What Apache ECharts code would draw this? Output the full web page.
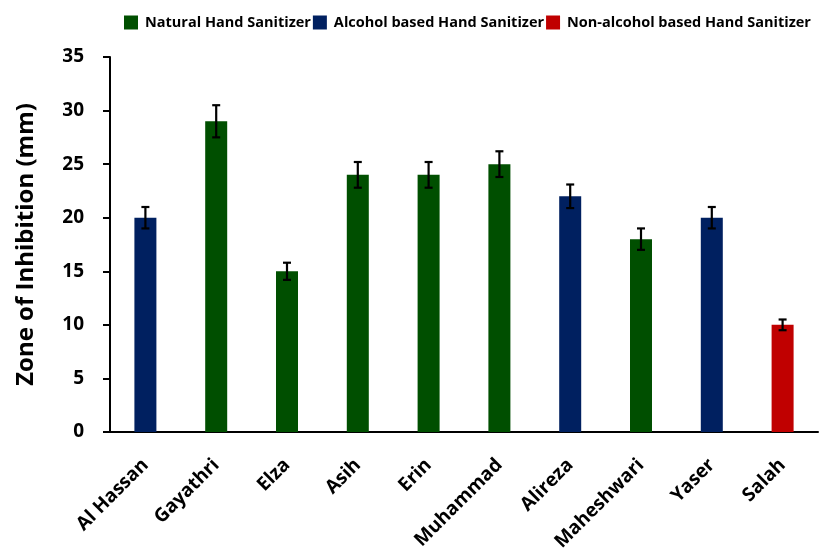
<!DOCTYPE html>
<html>
<head>
<meta charset="utf-8">
<script src="https://cdn.jsdelivr.net/npm/echarts@6/dist/echarts.min.js"></script>
<style>
  html, body { margin: 0; padding: 0; background: #fff; }
  #chart { width: 834px; height: 560px; }
</style>
</head>
<body>
<div id="chart"></div>
<script>
const categories = ["Al Hassan", "Gayathri", "Elza", "Asih", "Erin", "Muhammad", "Alireza", "Maheshwari", "Yaser", "Salah"];
const values = [20, 29, 15, 24, 24, 25, 22, 18, 20, 10];
const errors = [1.0, 1.5, 0.8, 1.2, 1.2, 1.2, 1.1, 1.0, 1.0, 0.5];
const groups = ["alcohol", "natural", "natural", "natural", "natural", "natural", "alcohol", "natural", "alcohol", "nonalcohol"];
const yTicks = [0, 5, 10, 15, 20, 25, 30, 35];

const groupNames = {
  natural: "Natural Hand Sanitizer",
  alcohol: "Alcohol based Hand Sanitizer",
  nonalcohol: "Non-alcohol based Hand Sanitizer"
};
const groupColors = { natural: "#004f00", alcohol: "#002060", nonalcohol: "#c00000" };
const FONT = "Open Sans";

const chart = echarts.init(document.getElementById("chart"));

// one bar series per group, empty where the category belongs to another group
const barSeries = Object.keys(groupNames).map(g => ({
  name: groupNames[g],
  type: "bar",
  stack: "all",
  barWidth: 22,
  data: values.map((v, i) => (groups[i] === g ? v : null)),
  itemStyle: { color: groupColors[g] }
}));

const errorSeries = {
  type: "custom",
  name: "err",
  z: 10,
  data: values.map((v, i) => [i, v - errors[i], v + errors[i]]),
  renderItem: (params, api) => {
    const lo = api.coord([api.value(0), api.value(1)]);
    const hi = api.coord([api.value(0), api.value(2)]);
    const cap = 4;
    const style = { stroke: "#000", lineWidth: 2.2 };
    return {
      type: "group",
      children: [
        { type: "line", shape: { x1: hi[0], y1: hi[1], x2: lo[0], y2: lo[1] }, style },
        { type: "line", shape: { x1: hi[0] - cap, y1: hi[1], x2: hi[0] + cap, y2: hi[1] }, style },
        { type: "line", shape: { x1: lo[0] - cap, y1: lo[1], x2: lo[0] + cap, y2: lo[1] }, style }
      ]
    };
  }
};

const option = {
  animation: false,
  textStyle: { fontFamily: FONT },
  legend: {
    data: Object.values(groupNames),
    left: 124,
    top: 15,
    padding: 0,
    itemWidth: 14,
    itemHeight: 14,
    itemGap: 2,
    icon: "rect",
    textStyle: { fontFamily: FONT, fontWeight: "bold", fontSize: 14.5, color: "#000", padding: [0, 0, 0, 2] }
  },
  grid: { left: 110, right: 16, top: 57, bottom: 128 },
  xAxis: {
    type: "category",
    data: categories,
    axisLine: { lineStyle: { color: "#000", width: 2 } },
    axisTick: { alignWithLabel: true, length: 6, lineStyle: { color: "#000", width: 2 } },
    axisLabel: {
      rotate: 45,
      margin: 30,
      interval: 0,
      fontFamily: FONT,
      fontWeight: "bold",
      fontSize: 19,
      color: "#000"
    }
  },
  yAxis: {
    type: "value",
    min: yTicks[0],
    max: yTicks[yTicks.length - 1],
    interval: 5,
    name: "Zone of Inhibition (mm)",
    nameLocation: "middle",
    nameGap: 72,
    nameTextStyle: { fontFamily: FONT, fontWeight: "bold", fontSize: 24, color: "#000" },
    splitLine: { show: false },
    axisLine: { show: true, lineStyle: { color: "#000", width: 2 } },
    axisTick: { show: true, length: 7, lineStyle: { color: "#000", width: 2 } },
    axisLabel: { fontFamily: FONT, fontWeight: "bold", fontSize: 19, color: "#000", margin: 26 }
  },
  series: [...barSeries, errorSeries]
};

chart.setOption(option);
</script>
</body>
</html>
